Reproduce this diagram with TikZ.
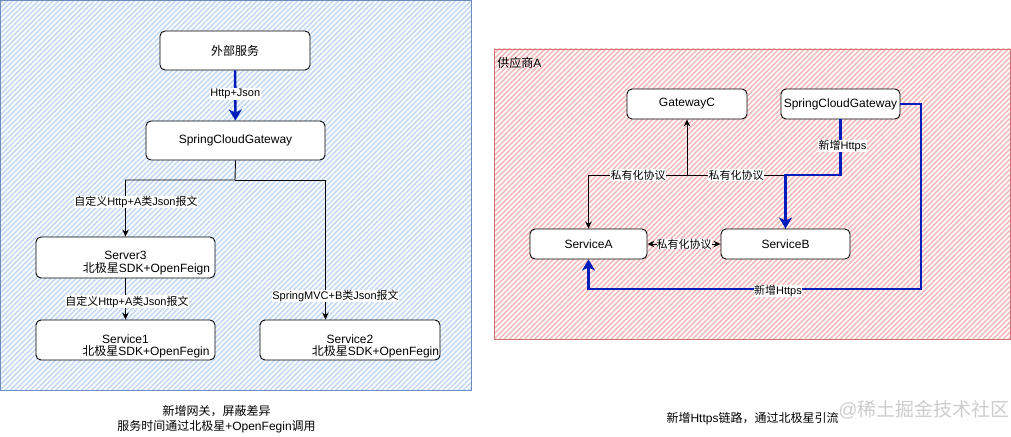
\documentclass[tikz,border=0pt]{standalone}
\usepackage{fontspec}
\setmainfont{Liberation Sans}
\newfontfamily\cjk{Noto Sans CJK SC}
\newcommand{\zh}[1]{{\cjk #1}}
\usetikzlibrary{arrows.meta, patterns.meta}
\definecolor{dblue}{HTML}{001DBC}
\definecolor{blueedge}{HTML}{6C8EBF}
\definecolor{bluehatch}{HTML}{C6DAF5}
\definecolor{rededge}{HTML}{D07070}
\definecolor{redhatch}{HTML}{F4BCBC}

\begin{document}
\begin{tikzpicture}[x=1pt, y=-1pt, line width=0.9pt,
    box/.style={draw, rounded corners=5pt, fill=white, inner sep=0pt, font=\fontsize{12}{12.5}\selectfont, align=center},
    txt/.style={inner sep=0pt, font=\fontsize{12}{12.5}\selectfont, align=center},
    lbl/.style={fill=white, inner sep=0.6pt, font=\fontsize{11}{13}\selectfont},
    arr/.style={draw, -{Stealth[length=7pt,width=6.5pt]}},
    biarr/.style={draw, {Stealth[length=7pt,width=6.5pt]}-{Stealth[length=7pt,width=6.5pt]}},
    bluearr/.style={draw=dblue, line width=2.6pt, -{Stealth[length=11pt,width=13pt,inset=3pt]}},
    captxt/.style={font=\fontsize{12}{15}\selectfont, align=center}]
    \useasboundingbox (0,0) rectangle (1011,436);

    % hatched areas
    \path[draw=blueedge, pattern={Lines[angle=45,distance=3.6pt,line width=1.7pt]}, pattern color=bluehatch] (0.5,0.5) rectangle (471,390);
    \path[draw=rededge, pattern={Lines[angle=45,distance=3.6pt,line width=1.7pt]}, pattern color=redhatch] (494,49) rectangle (1010.5,339);
    \node[txt, anchor=west] (vendor) at (497,63) {\zh{供应商}A};

    % left: gateway in front
    \node[box, minimum width=150pt, minimum height=39pt] (ext) at (235,50.5) {\zh{外部服务}};
    \node[box, minimum width=179pt, minimum height=39pt] (gwL) at (235.5,140.5) {SpringCloudGateway};
    \node[box, minimum width=179pt, minimum height=41pt] (server3) at (125.5,257.5) {};
    \node[txt] (server3-txt) at (125.5,263) {Server3\\\hspace*{42pt}\zh{北极星}SDK+OpenFeign};
    \node[box, minimum width=179pt, minimum height=40pt] (service1) at (125.5,340) {};
    \node[txt] (service1-txt) at (125.5,346.5) {Service1\\\hspace*{41pt}\zh{北极星}SDK+OpenFegin};
    \node[box, minimum width=180pt, minimum height=40pt] (service2) at (350,340) {};
    \node[txt] (service2-txt) at (350,346.5) {Service2\\\hspace*{51pt}\zh{北极星}SDK+OpenFegin};

    \draw[bluearr] (ext) -- (gwL) node[lbl, pos=0.47] {Http+Json};
    \coordinate (split) at (235,180);
    \draw[arr] (gwL.south) -- (split) -| (server3.north);
    \draw[arr] (split) -| (gwL.east |- service2.north);
    \node[lbl] (lblA1) at (136,202) {\zh{自定义}Http+A\zh{类}Json\zh{报文}};
    \node[lbl] (lblB) at (335.5,296) {SpringMVC+B\zh{类}Json\zh{报文}};
    \draw[arr] (server3) -- (service1) node[lbl, pos=0.57, xshift=1.5pt] {\zh{自定义}Http+A\zh{类}Json\zh{报文}};

    \node[captxt] (capL) at (216.5,419.5) {\zh{新增网关，屏蔽差异}\\\zh{服务时间通过北极星}+OpenFegin\zh{调用}};

    % right: vendor A
    \node[box, minimum width=120pt, minimum height=30pt] (gwC) at (687,104) {GatewayC};
    \node[box, minimum width=119pt, minimum height=30pt] (scg) at (840.5,104) {SpringCloudGateway};
    \node[box, minimum width=117pt, minimum height=30pt] (svcA) at (588.5,244) {ServiceA};
    \node[box, minimum width=129pt, minimum height=30pt] (svcB) at (785.5,244) {ServiceB};

    \coordinate (tee) at (687,175);
    \draw[arr] (svcB.north) |- (tee) -- (gwC.south);
    \draw[arr] (tee) -| (svcA.north);
    \node[lbl] (lblP1) at (638,175) {\zh{私有化协议}};
    \node[lbl] (lblP2) at (736,175) {\zh{私有化协议}};
    \draw[biarr] (svcA) -- (svcB) node[lbl, midway, inner sep=0pt] {\zh{私有化协议}};

    \draw[bluearr] (scg.south) -- (scg.south |- tee) -| (svcB.north);
    \node[lbl] (lblH1) at (842.5,146) {\zh{新增}Https};
    \coordinate (loop) at (921,289);
    \draw[bluearr] (scg.east) -| (loop) -| (svcA.south);
    \node[lbl] (lblH2) at (778,291) {\zh{新增}Https};

    \node[captxt] (capR) at (752.5,419) {\zh{新增}Https\zh{链路，通过北极星引流}};
    \node[txt, text=gray!40, font=\fontsize{19}{19}\selectfont, anchor=east] (mark) at (1010,410) {@\zh{稀土掘金技术社区}};
\end{tikzpicture}
\end{document}
